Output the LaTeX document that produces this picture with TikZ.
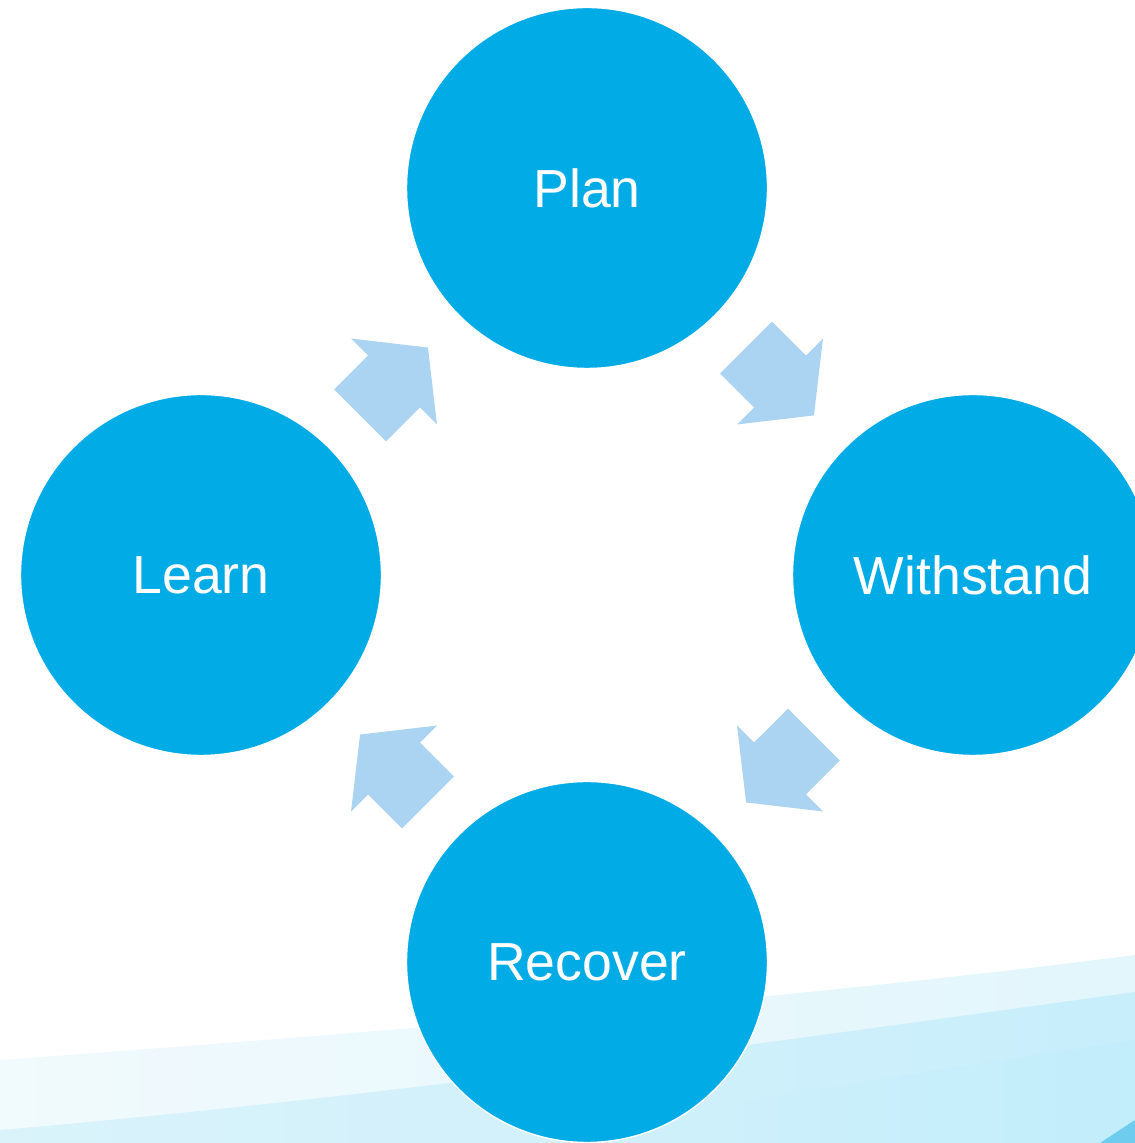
\documentclass[tikz,border=0pt]{standalone}
\usepackage{fontspec}
\setmainfont{Liberation Sans}
\usetikzlibrary{positioning, calc}

\definecolor{phaseblue}{RGB}{0,171,230}
\definecolor{arrowblue}{RGB}{171,211,242}
\definecolor{bandA}{RGB}{241,250,253}
\definecolor{bandAr}{RGB}{226,246,252}
\definecolor{bandB}{RGB}{218,243,251}
\definecolor{bandBr}{RGB}{200,238,251}
\definecolor{bandC}{RGB}{194,237,251}
\definecolor{edgeblue}{RGB}{110,204,238}

\begin{document}
\begin{tikzpicture}
\tikzset{phase/.style={
    circle, fill=phaseblue, draw=white, line width=0.8pt, minimum size=7.22cm, inner sep=0pt, text=white, font=\fontsize{30.5}{36}\selectfont},
    cyclearrow/.pic={
    \fill[arrowblue] (-0.96,0.735) -- (0,0.735) -- (0,1.215) -- (0.96,0) -- (0,-1.215) -- (0,-0.735) -- (-0.96,-0.735) -- cycle;}
}

    \useasboundingbox (0,0) rectangle (22.7,22.86);
    \clip (0,0) rectangle (22.7,22.86);

    % swoosh at the bottom
    \shade[left color=bandA, right color=bandAr] (0,1.66) .. controls (8,2.25) and (16,2.9) .. (22.7,3.76) -- (22.7,0) -- (0,0) -- cycle;
    \shade[left color=bandB, right color=bandBr] (0,0.26) .. controls (8,0.95) and (16,2.1) .. (22.7,3.02) -- (22.7,0) -- (0,0) -- cycle;
    \shade[left color=bandB!60!bandBr, right color=bandC] (10.14,0) .. controls (15,0.9) and (19,1.5) .. (22.7,2.06) -- (22.7,0) -- cycle;
    \fill[edgeblue] (22.0,0) -- (22.7,0.46) -- (22.7,0) -- cycle;

    \coordinate (c_plan) at (11.74,19.10);
    \coordinate (c_withstand) at ($(c_plan) + (7.72,-7.74)$);
    \coordinate (c_recover) at ($(c_plan) + (0,-15.48)$);
    \coordinate (c_learn) at ($(c_plan) + (-7.72,-7.74)$);

    \path (c_plan) node[phase] (plan) {Plan};
    \path (c_withstand) node[phase] (withstand) {Withstand};
    \path (c_recover) node[phase] (recover) {Recover};
    \path (c_learn) node[phase] (learn) {Learn};

    % arrows between the phases
    \path ($(plan)!0.5!(withstand)$) pic[rotate=-45] {cyclearrow};
    \path ($(withstand)!0.5!(recover)$) pic[rotate=-135] {cyclearrow};
    \path ($(recover)!0.5!(learn)$) pic[rotate=135] {cyclearrow};
    \path ($(learn)!0.5!(plan)$) pic[rotate=45] {cyclearrow};

\end{tikzpicture}
\end{document}
